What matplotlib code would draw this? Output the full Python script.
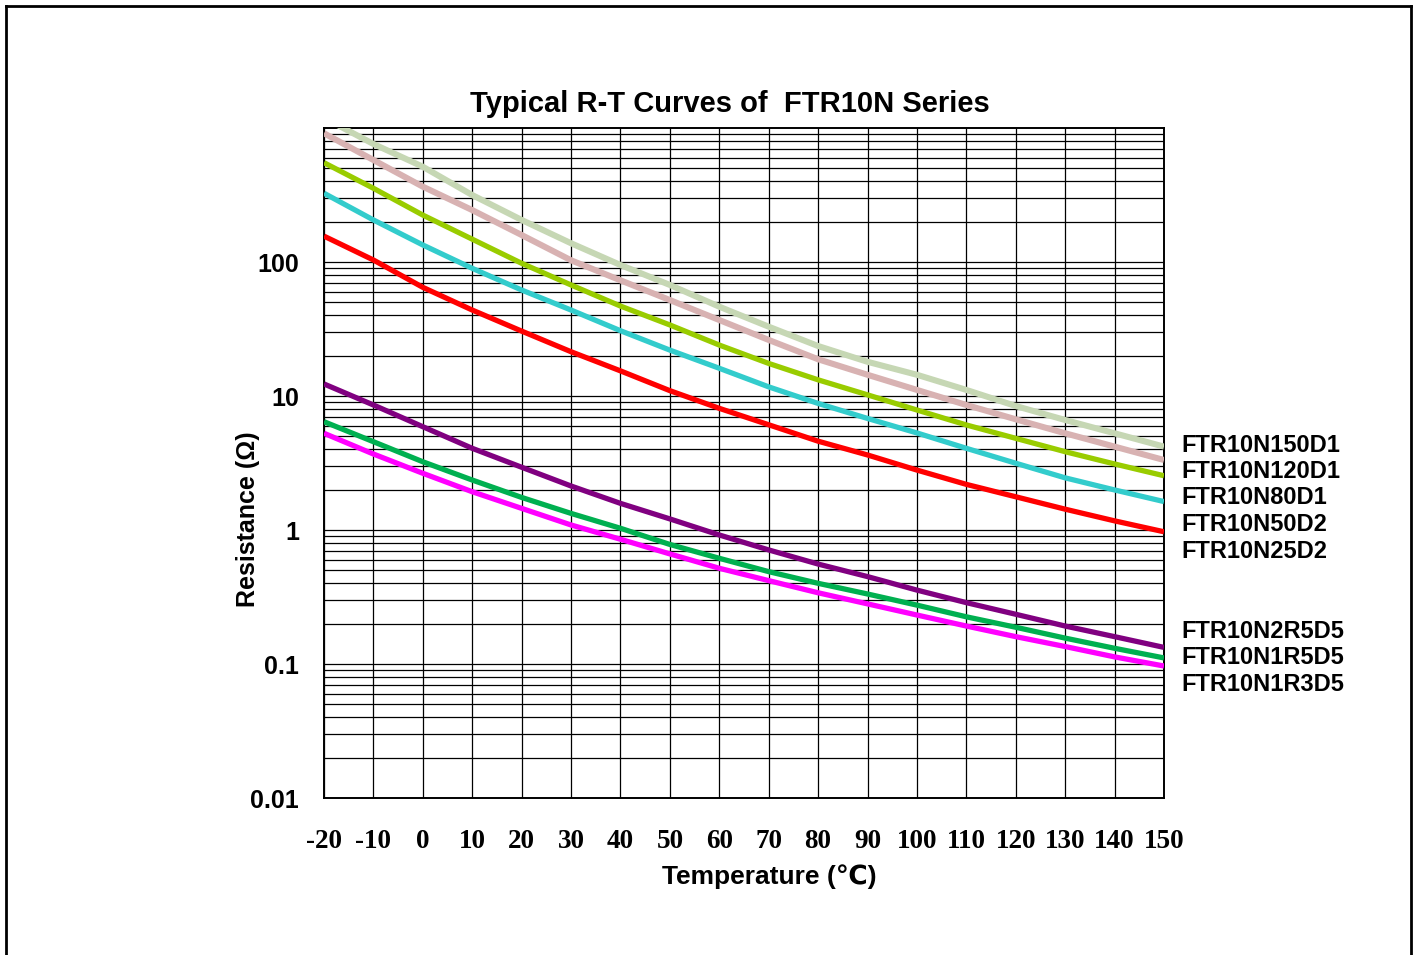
import matplotlib.pyplot as plt
from matplotlib.ticker import LogLocator, NullFormatter
from matplotlib.lines import Line2D

# temperature points (deg C) read every 10 degrees
temps = [-20, -10, 0, 10, 20, 30, 40, 50, 60, 70, 80, 90, 100, 110, 120, 130, 140, 150]

# resistance (ohm)
r150 = [1190, 760, 514, 316, 206, 138, 95, 67.4, 46.4, 32.9, 23.6, 18.0, 14.4, 11.1, 8.42, 6.62, 5.27, 4.19]
r120 = [913, 577, 365, 244, 159, 103, 73, 52, 36.9, 26.2, 18.8, 14.4, 11.1, 8.57, 6.70, 5.27, 4.19, 3.33]
r80 = [551, 355, 224, 148, 97.8, 67.4, 46.9, 33.9, 24.0, 17.5, 13.2, 10.2, 7.86, 6.08, 4.83, 3.84, 3.11, 2.54]
r50 = [326, 206, 134, 89.7, 61.8, 43.8, 30.7, 22.0, 16.1, 11.7, 8.8, 6.8, 5.3, 4.07, 3.15, 2.45, 1.99, 1.63]
r25 = [156, 103.5, 64.7, 43.8, 30.5, 21.4, 15.4, 10.96, 8.09, 6.1, 4.6, 3.63, 2.8, 2.19, 1.77, 1.43, 1.17, 0.97]
r2r5 = [12.3, 8.57, 5.9, 4.07, 2.94, 2.13, 1.58, 1.21, 0.918, 0.71, 0.557, 0.449, 0.356, 0.287, 0.235, 0.192, 0.160, 0.133]
r1r5 = [6.43, 4.56, 3.23, 2.36, 1.75, 1.33, 1.03, 0.78, 0.615, 0.489, 0.40, 0.333, 0.275, 0.225, 0.188, 0.156, 0.131, 0.111]
r1r3 = [5.27, 3.69, 2.65, 1.93, 1.45, 1.09, 0.853, 0.663, 0.518, 0.419, 0.34, 0.281, 0.232, 0.192, 0.160, 0.135, 0.113, 0.0966]

series = [r150, r120, r80, r50, r25, r2r5, r1r5, r1r3]
names = ['FTR10N150D1', 'FTR10N120D1', 'FTR10N80D1', 'FTR10N50D2', 'FTR10N25D2',
         'FTR10N2R5D5', 'FTR10N1R5D5', 'FTR10N1R3D5']
colors = ['#c6d7b4', '#d8b2b2', '#99cc00', '#33cccc', '#ff0000', '#800080', '#00b050', '#ff00ff']
widths = [4.4, 4.4, 3.8, 3.8, 3.8, 3.8, 3.8, 3.8]

ytick_vals = [0.01, 0.1, 1, 10, 100]
ytick_labels = ['0.01', '0.1', '1', '10', '100']
xtick_vals = list(range(-20, 151, 10))

sans = ['Liberation Sans', 'DejaVu Sans']
serif = ['Liberation Serif', 'DejaVu Serif']

fig = plt.figure(figsize=(14.16, 9.55), dpi=100)
ax = fig.add_axes([324 / 1416, 157 / 955, 840 / 1416, 670 / 955])

for vals, c, lw in zip(series, colors, widths):
    ax.plot(temps, vals, color=c, lw=lw, solid_capstyle='butt', zorder=3)

ax.set_yscale('log')
ax.set_xlim(-20, 150)
ax.set_ylim(0.01, 1000)
ax.set_xticks(xtick_vals)
ax.set_xticklabels([str(t) for t in xtick_vals], family=serif, fontweight='bold', fontsize=19.5)
ax.set_yticks(ytick_vals)
ax.set_yticklabels(ytick_labels, family=sans, fontweight='bold', fontsize=18)
ax.yaxis.set_minor_locator(LogLocator(base=10, subs=range(2, 10)))
ax.yaxis.set_minor_formatter(NullFormatter())
ax.tick_params(which='both', length=0)
ax.tick_params(axis='x', pad=22)
ax.tick_params(axis='y', pad=18)
ax.grid(which='both', color='black', lw=0.9, zorder=1)
for s in ax.spines.values():
    s.set_linewidth(1.4)
    s.set_color('black')

fig.text(769 / 1416, 1 - 877 / 955, 'Temperature (℃)', family=sans, fontweight='bold',
         fontsize=19, ha='center', va='center')
fig.text(248 / 1416, 1 - 519 / 955, 'Resistance (Ω)', family=sans, fontweight='bold',
         fontsize=18, ha='center', va='center', rotation=90)

fig.text(730 / 1416, 1 - 104 / 955, 'Typical R-T Curves of  FTR10N Series',
         family=sans, fontweight='bold', fontsize=21, ha='center', va='center')

# series names at the right side
label_y = [445, 471, 497, 524, 551, 631, 657, 684]
for name, py in zip(names, label_y):
    ax.text((1181 - 324) / 840, (798 - py) / 670, name, transform=ax.transAxes,
            family=sans, fontweight='bold', fontsize=17, ha='left', va='center', clip_on=False)

# frame round the picture (no bottom edge)
x0, x1, yt = 6 / 1416, 1411 / 1416, 1 - 6 / 955
fig.add_artist(Line2D([x0, x0], [0, yt], color='black', lw=2, transform=fig.transFigure))
fig.add_artist(Line2D([x0, x1], [yt, yt], color='black', lw=2, transform=fig.transFigure))
fig.add_artist(Line2D([x1, x1], [0, yt], color='black', lw=2, transform=fig.transFigure))

fig.savefig('out.png', dpi=100)
